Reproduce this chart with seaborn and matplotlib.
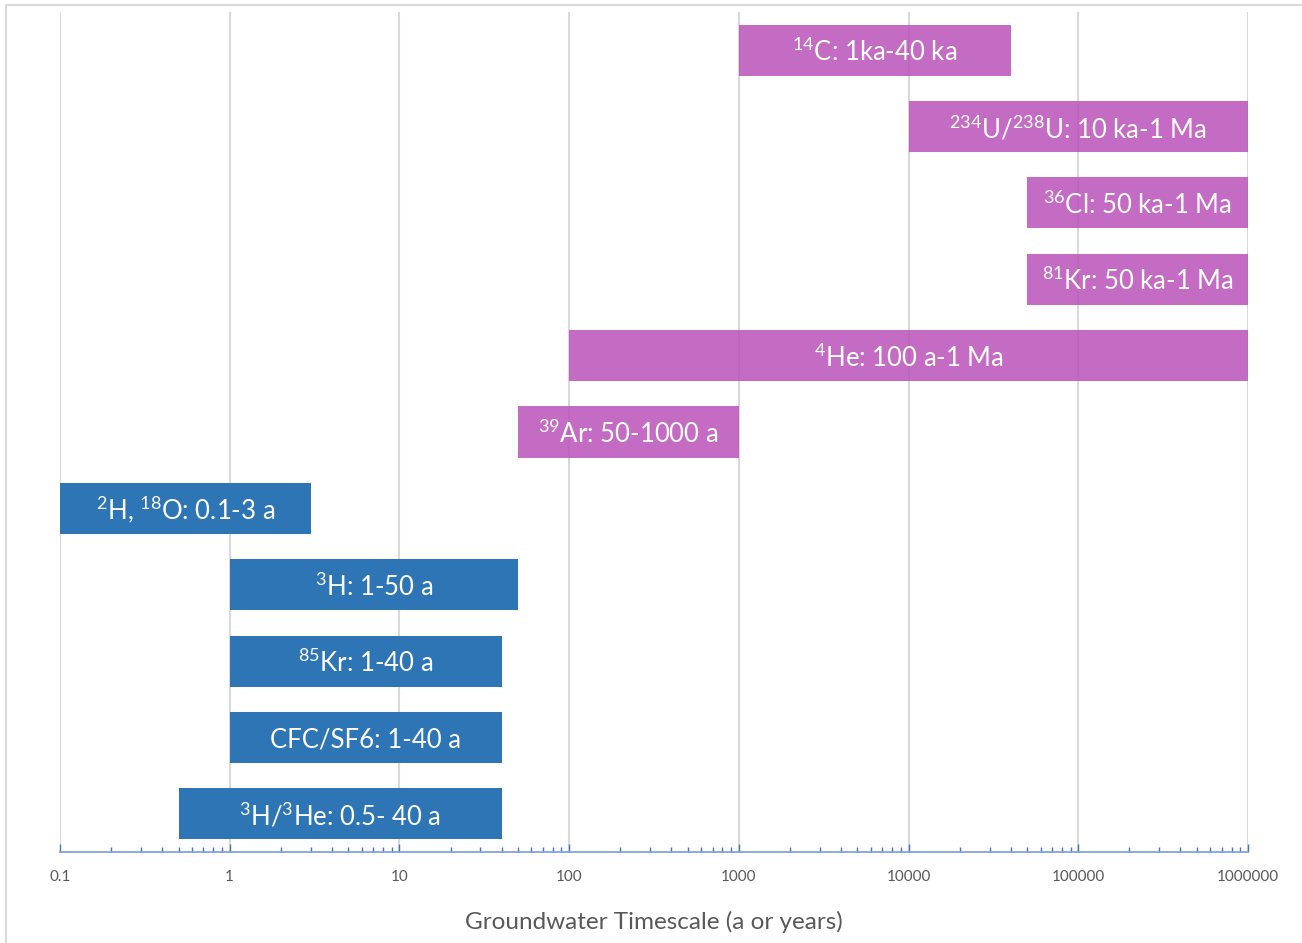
import numpy as np
import pandas as pd
import matplotlib
matplotlib.use("Agg")
import matplotlib.pyplot as plt
import matplotlib.ticker as mticker
from matplotlib.patches import Rectangle
import seaborn as sns

# Tracer ranges (years)
tracers = ["14C", "234U/238U", "36Cl", "81Kr", "4He", "39Ar",
           "2H, 18O", "3H", "85Kr", "CFC/SF6", "3H/3He"]
start_years = [1000, 10000, 50000, 50000, 100, 50, 0.1, 1, 1, 1, 0.5]
end_years = [40000, 1000000, 1000000, 1000000, 1000000, 1000, 3, 50, 40, 40, 40]
bar_labels = [
    r"$^{14}$C: 1ka-40 ka",
    r"$^{234}$U/$^{238}$U: 10 ka-1 Ma",
    r"$^{36}$Cl: 50 ka-1 Ma",
    r"$^{81}$Kr: 50 ka-1 Ma",
    r"$^{4}$He: 100 a-1 Ma",
    r"$^{39}$Ar: 50-1000 a",
    r"$^{2}$H, $^{18}$O: 0.1-3 a",
    r"$^{3}$H: 1-50 a",
    r"$^{85}$Kr: 1-40 a",
    "CFC/SF6: 1-40 a",
    r"$^{3}$H/$^{3}$He: 0.5- 40 a",
]
groups = ["old"] * 6 + ["young"] * 5
x_ticks = [0.1, 1, 10, 100, 1000, 10000, 100000, 1000000]

sns.set_theme(style="white")
plt.rcParams["font.family"] = ["Lato", "DejaVu Sans"]
plt.rcParams["mathtext.fontset"] = "custom"
plt.rcParams["mathtext.rm"] = "Lato"
plt.rcParams["mathtext.default"] = "regular"

df = pd.DataFrame({
    "tracer": tracers,
    "start": start_years,
    "end": end_years,
    "group": groups,
})
df["span"] = df["end"] - df["start"]

W, H = 1302, 943
fig = plt.figure(figsize=(W / 100, H / 100), dpi=100)
ax = fig.add_axes([60 / W, 1 - 852 / H, (1248 - 60) / W, (852 - 12) / H])

styles = {
    "old": dict(color="#BA52BA", alpha=0.85),
    "young": dict(color="#2E75B6", alpha=1.0),
}
for g, sub in df.groupby("group", sort=False):
    sns.barplot(data=sub, x="span", y="tracer", order=tracers, orient="h",
                left=sub["start"].to_numpy(), width=0.67,
                color=styles[g]["color"], alpha=styles[g]["alpha"],
                saturation=1, linewidth=0, ax=ax)

ax.set_xscale("log")
ax.set_xlim(0.1, 1e6)
ax.set_ylim(len(tracers) - 0.5, -0.5)

for i, (s, e, lab) in enumerate(zip(df["start"], df["end"], bar_labels)):
    ax.text(np.sqrt(s * e), i + 0.03, lab, ha="center", va="center",
            color="white", fontsize=18.5)

# Axes styling
ax.set_axisbelow(True)
ax.xaxis.set_major_locator(mticker.FixedLocator(x_ticks))
ax.xaxis.set_major_formatter(mticker.FuncFormatter(lambda v, _: f"{v:.10g}"))
ax.xaxis.set_minor_locator(mticker.LogLocator(base=10, subs=np.arange(2, 10)))
ax.xaxis.set_minor_formatter(mticker.NullFormatter())
ax.grid(axis="x", which="major", color="#D9D9D9", linewidth=1.5)
ax.grid(axis="y", visible=False)
for side in ["left", "right", "top"]:
    ax.spines[side].set_visible(False)
ax.spines["bottom"].set_color("#7A9BD8")
ax.spines["bottom"].set_linewidth(1.2)
ax.tick_params(axis="x", which="major", direction="in", length=6, width=1,
               color="#4472C4", labelsize=11, labelcolor="#595959", pad=13,
               bottom=True)
ax.tick_params(axis="x", which="minor", direction="in", length=3.5, width=1,
               color="#4472C4", bottom=True)
ax.set_yticks([])
ax.set_ylabel("")
ax.set_xlabel("Groundwater Timescale (a or years)", fontsize=17.5,
              color="#595959", labelpad=19)

# Chart-area border
fig.patches.append(Rectangle((6 / W, -0.1), 1.2, 1 - 5 / H + 0.1,
                             transform=fig.transFigure, fill=False,
                             edgecolor="#D9D9D9", linewidth=1.5))

fig.savefig("out.png", dpi=100)
